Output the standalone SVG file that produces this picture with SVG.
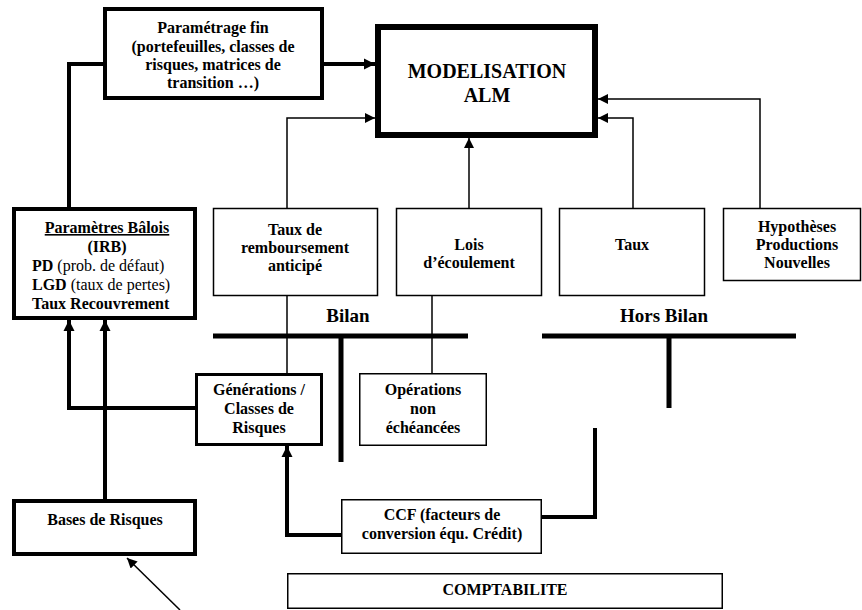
<svg xmlns="http://www.w3.org/2000/svg" width="862" height="610" viewBox="0 0 862 610">
<style>
text{font-family:"Liberation Serif","Times New Roman",serif;font-weight:bold;font-size:16px;fill:#000}
.c{text-anchor:middle}
.n{font-weight:normal}
.box{fill:#fff;stroke:#000}
.thin{stroke-width:1.5}
.thick{stroke-width:4}
.conn{fill:none;stroke:#000}
</style>
<defs>
<marker id="aThin" viewBox="0 0 10 10" refX="10" refY="5" markerUnits="userSpaceOnUse" markerWidth="10" markerHeight="10" orient="auto"><path d="M0,0 L10,5 L0,10 z" fill="#000"/></marker>
<marker id="aThick" viewBox="0 0 10 10" refX="10" refY="5" markerUnits="userSpaceOnUse" markerWidth="11" markerHeight="13" orient="auto"><path d="M0,0 L10,5 L0,10 z" fill="#000"/></marker>
</defs>
<g id="connectors">
<path class="conn" stroke-width="4" d="M105,64 H69 V209"/>
<path class="conn" stroke-width="4" d="M322,64 H375" marker-end="url(#aThick)"/>
<path class="conn" stroke-width="1.5" d="M287,208 V118 H375" marker-end="url(#aThin)"/>
<path class="conn" stroke-width="1.5" d="M469,208 V138" marker-end="url(#aThin)"/>
<path class="conn" stroke-width="1.5" d="M633,208 V118 H598" marker-end="url(#aThin)"/>
<path class="conn" stroke-width="1.5" d="M760,208 V99 H598" marker-end="url(#aThin)"/>
<path class="conn" stroke-width="1.5" d="M287,296 V373"/>
<path class="conn" stroke-width="1.5" d="M432,296 V373"/>
<path class="conn" stroke-width="5" d="M213,336 H468 M341,336 V462"/>
<path class="conn" stroke-width="5" d="M542,336 H796 M669,336 V408"/>
<path class="conn" stroke-width="4" d="M195,408 H69 V320" marker-end="url(#aThick)"/>
<path class="conn" stroke-width="4" d="M105,501 V320" marker-end="url(#aThick)"/>
<path class="conn" stroke-width="4" d="M341,535 H287 V446" marker-end="url(#aThick)"/>
<path class="conn" stroke-width="4" d="M541,517 H595 V428"/>
<path class="conn" stroke-width="1.5" d="M180,610 L127,558" marker-end="url(#aThin)"/>
</g>
<g id="parametrage">
<rect class="box thick" x="105" y="9" width="217" height="89"/>
<text class="c" x="213" y="33">Paramétrage fin</text>
<text class="c" x="213" y="52">(portefeuilles, classes de</text>
<text class="c" x="213" y="70">risques, matrices de</text>
<text class="c" x="213" y="88">transition …)</text>
</g>
<g id="modelisation">
<rect class="box" stroke-width="6" x="378" y="27" width="217" height="108"/>
<text class="c" x="487" y="78" style="font-size:20px">MODELISATION</text>
<text class="c" x="487" y="102" style="font-size:20px">ALM</text>
</g>
<g id="taux-remb">
<rect class="box thin" x="213.5" y="208.5" width="164" height="87"/>
<text class="c" x="295" y="235">Taux de</text>
<text class="c" x="295" y="253">remboursement</text>
<text class="c" x="295" y="271">anticipé</text>
</g>
<g id="lois">
<rect class="box thin" x="396.5" y="208.5" width="145" height="87"/>
<text class="c" x="469" y="250">Lois</text>
<text class="c" x="469" y="268">d’écoulement</text>
</g>
<g id="taux">
<rect class="box thin" x="559.5" y="208.5" width="145" height="87"/>
<text class="c" x="632" y="250">Taux</text>
</g>
<g id="hypotheses">
<rect class="box thin" x="723.5" y="208.5" width="137" height="72"/>
<text class="c" x="797" y="232">Hypothèses</text>
<text class="c" x="797" y="250">Productions</text>
<text class="c" x="797" y="268">Nouvelles</text>
</g>
<g id="bilan-label">
<text class="c" x="348" y="322" style="font-size:19px">Bilan</text>
</g>
<g id="hors-bilan-label">
<text class="c" x="664" y="322" style="font-size:19px">Hors Bilan</text>
</g>
<g id="parametres-balois">
<rect class="box thick" x="14" y="209" width="181" height="109"/>
<text class="c" x="107" y="233" text-decoration="underline">Paramètres Bâlois</text>
<text class="c" x="107" y="252">(IRB)</text>
<text x="32" y="271">PD<tspan class="n"> (prob. de défaut)</tspan></text>
<text x="32" y="290">LGD<tspan class="n"> (taux de pertes)</tspan></text>
<text x="32" y="309">Taux Recouvrement</text>
</g>
<g id="generations">
<rect class="box" stroke-width="3" x="196.5" y="374.5" width="125" height="70"/>
<text class="c" x="259" y="395">Générations /</text>
<text class="c" x="259" y="414">Classes de</text>
<text class="c" x="259" y="433">Risques</text>
</g>
<g id="operations">
<rect class="box thin" x="359.75" y="373.75" width="126.5" height="71.5"/>
<text class="c" x="423" y="395">Opérations</text>
<text class="c" x="423" y="414">non</text>
<text class="c" x="423" y="433">échéancées</text>
</g>
<g id="bases">
<rect class="box thick" x="14" y="501" width="181" height="53"/>
<text class="c" x="105" y="525">Bases de Risques</text>
</g>
<g id="ccf">
<rect class="box thin" x="341.75" y="499.75" width="199.5" height="53.5"/>
<text class="c" x="442" y="520">CCF (facteurs de</text>
<text class="c" x="442" y="539">conversion équ. Crédit)</text>
</g>
<g id="comptabilite">
<rect class="box thin" x="287.75" y="573.75" width="434.5" height="34.5"/>
<text class="c" x="505" y="595">COMPTABILITE</text>
</g>
</svg>
